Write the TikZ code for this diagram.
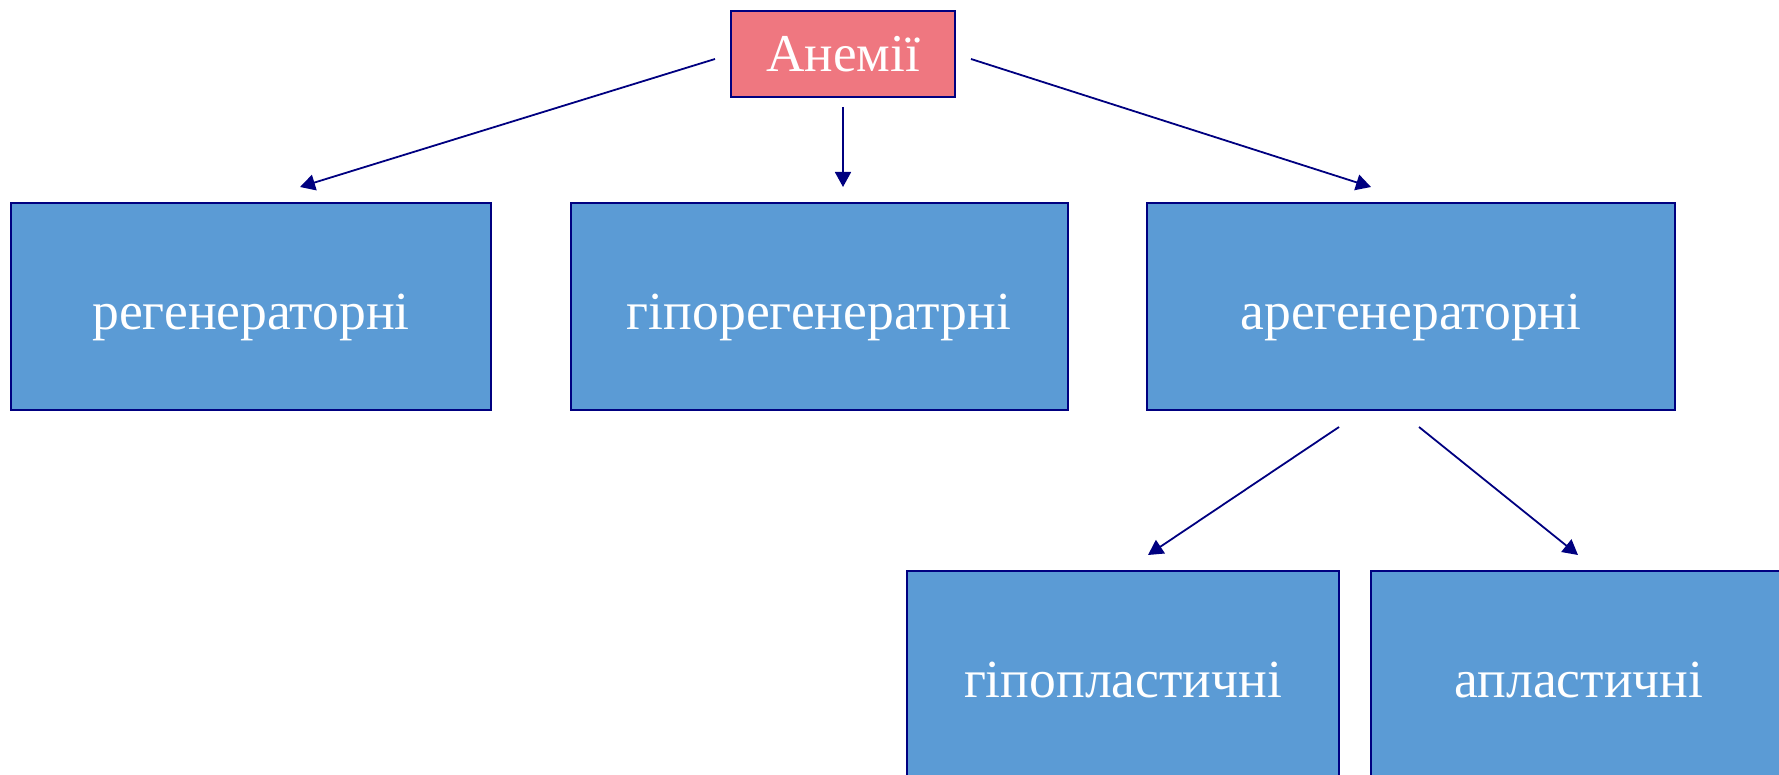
\documentclass[tikz,border=0pt]{standalone}
\usepackage{fontspec}
\setmainfont{Liberation Serif}
\usetikzlibrary{arrows.meta}
\definecolor{navy}{HTML}{000080}
\definecolor{pinkfill}{HTML}{EF7780}
\definecolor{bluefill}{HTML}{5B9BD5}
\tikzset{
  box/.style={draw=navy, line width=1pt, fill=bluefill, text=white, inner sep=0pt, font=\fontsize{26.8}{32}\selectfont},
  topbox/.style={draw=navy, line width=1pt, fill=pinkfill, text=white, inner sep=0pt, font=\fontsize{26.6}{32}\selectfont},
  conn/.style={draw=navy, line width=0.9pt, -{Triangle[length=7.5pt,width=8pt]}}
}
\begin{document}
\begin{tikzpicture}[x=0.5pt,y=-0.5pt]
\useasboundingbox (0,0) rectangle (1779,775);
\clip (0,0) rectangle (1779,775);
\node[topbox, minimum width=112pt, minimum height=43pt, text height=17.7pt, text depth=0pt] (top) at (843,54) {Анемії};
\node[box, minimum width=240pt, minimum height=103.5pt, text height=23.2pt, text depth=0pt] (reg) at (251,306.5) {регенераторні};
\node[box, minimum width=248.5pt, minimum height=103.5pt, text height=23.2pt, text depth=0pt] (hipo) at (819,306.5) {гіпорегенератрні};
\node[box, minimum width=264pt, minimum height=103.5pt, text height=23.2pt, text depth=0pt] (areg) at (1411,306.5) {арегенераторні};
\node[box, minimum width=216pt, minimum height=110pt, text height=16.1pt, text depth=0pt] (hpl) at (1123,681) {гіпопластичні};
\node[box, minimum width=208pt, minimum height=110pt, text height=16.1pt, text depth=0pt] (apl) at (1579,681) {апластичні};
\coordinate (s1) at (715,59);
\coordinate (e1) at (300,187);
\coordinate (s2) at (843,107);
\coordinate (e2) at (843,187);
\coordinate (s3) at (971,59);
\coordinate (e3) at (1371,187);
\coordinate (s4) at (1339,427);
\coordinate (e4) at (1148,555);
\coordinate (s5) at (1419,427);
\coordinate (e5) at (1578,555);
\draw[conn] (s1) -- (e1);
\draw[conn] (s2) -- (e2);
\draw[conn] (s3) -- (e3);
\draw[conn] (s4) -- (e4);
\draw[conn] (s5) -- (e5);
\end{tikzpicture}
\end{document}
